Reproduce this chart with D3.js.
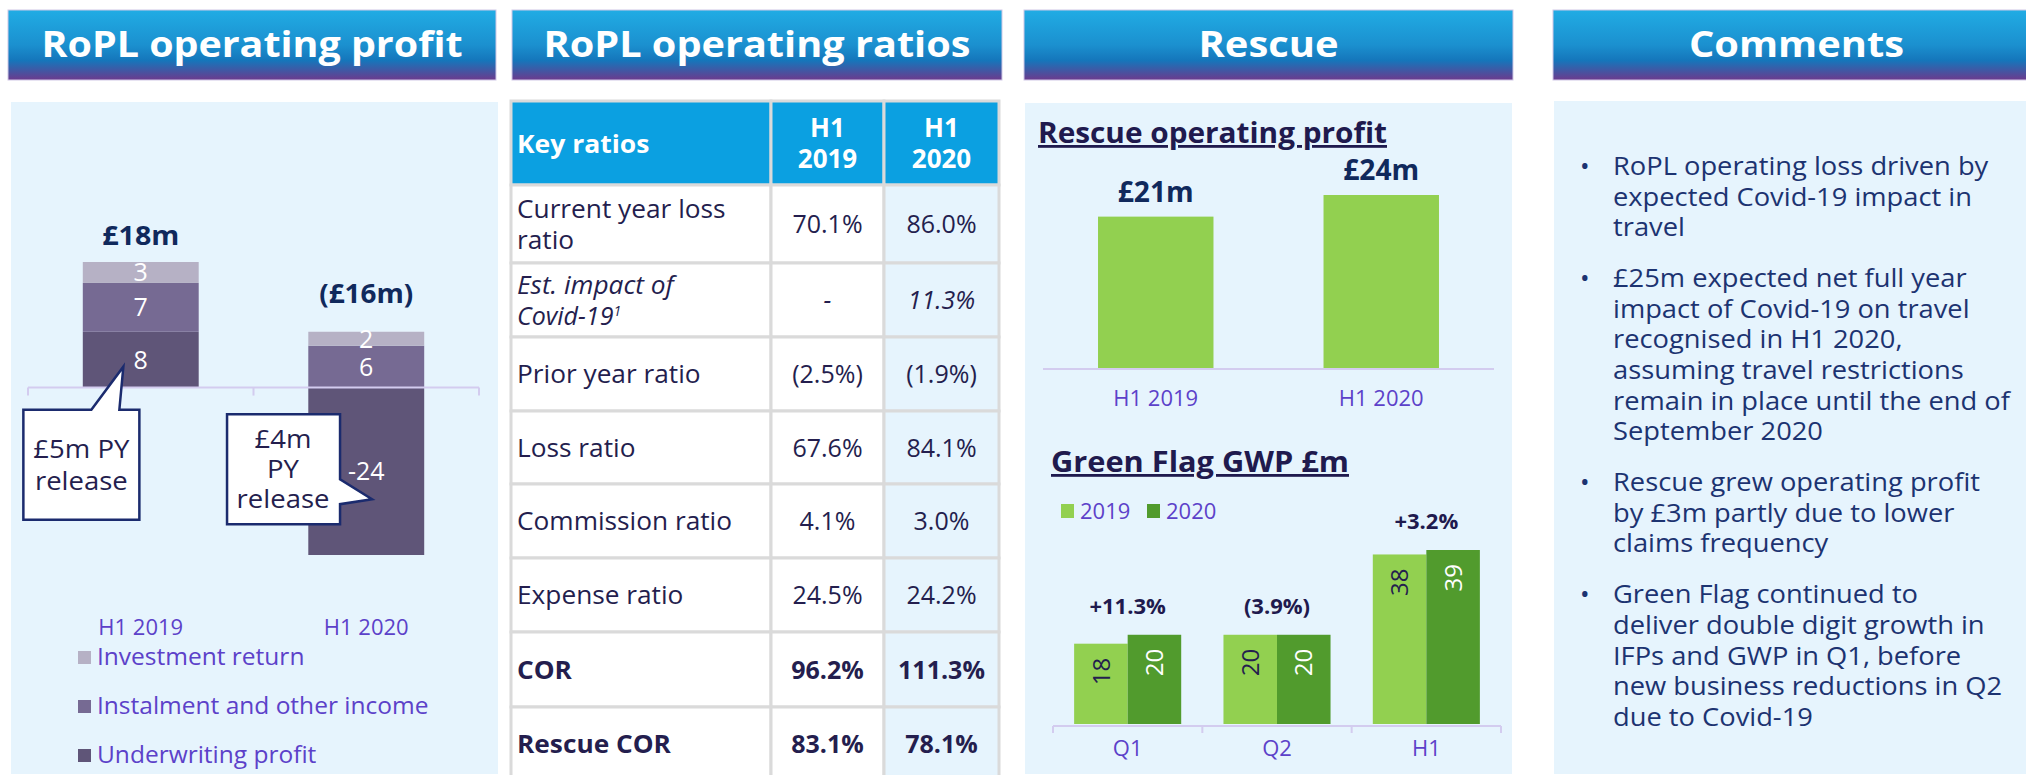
<!DOCTYPE html>
<html>
<head>
<meta charset="utf-8">
<script src="https://cdn.jsdelivr.net/npm/d3@7"></script>
<style>
body { margin: 0; background: #fff; }
svg text { font-family: "Open Sans", "Noto Sans", sans-serif; }
</style>
</head>
<body>
<svg id="chart" width="2026" height="775"></svg>
<script>
// ---- data ----
var roplYears = ["H1 2019", "H1 2020"];
var underwritingProfit = [8, -24];
var instalmentIncome = [7, 6];
var investmentReturn = [3, 2];
var roplTotals = ["£18m", "(£16m)"];
var roplSeriesNames = ["Investment return", "Instalment and other income", "Underwriting profit"];

var ratioLabels = [["Current year loss", "ratio"], ["Est. impact of", "Covid-19"], ["Prior year ratio"], ["Loss ratio"],
	["Commission ratio"], ["Expense ratio"], ["COR"], ["Rescue COR"]];
var ratios2019 = ["70.1%", "-", "(2.5%)", "67.6%", "4.1%", "24.5%", "96.2%", "83.1%"];
var ratios2020 = ["86.0%", "11.3%", "(1.9%)", "84.1%", "3.0%", "24.2%", "111.3%", "78.1%"];
var ratioHeaders = ["Key ratios", "H1 2019", "H1 2020"];

var rescueYears = ["H1 2019", "H1 2020"];
var rescueProfit = [21, 24];
var rescueLabels = ["£21m", "£24m"];

var gwpPeriods = ["Q1", "Q2", "H1"];
var gwp2019 = [18, 20, 38];
var gwp2020 = [20, 20, 39];
var gwpGrowth = ["+11.3%", "(3.9%)", "+3.2%"];

var comments = [
	["RoPL operating loss driven by", "expected Covid-19 impact in", "travel"],
	["£25m expected net full year", "impact of Covid-19 on travel", "recognised in H1 2020,", "assuming travel restrictions", "remain in place until the end of", "September 2020"],
	["Rescue grew operating profit", "by £3m partly due to lower", "claims frequency"],
	["Green Flag continued to", "deliver double digit growth in", "IFPs and GWP in Q1, before", "new business reductions in Q2", "due to Covid-19"]
];

// ---- styles ----
var navy = "#10295c", ink = "#241e4e", purple = "#5c41c9", axisCol = "#d3ccef";
var panelBg = "#e6f4fd";
var segColors = { underwriting: "#5f5578", instalment: "#766a93", investment: "#b6b1c5" };
var lightGreen = "#92d050", darkGreen = "#519b2d";

var svg = d3.select("#chart");

var grad = svg.append("defs").append("linearGradient")
	.attr("id", "hdr").attr("x1", 0).attr("y1", 0).attr("x2", 0).attr("y2", 1);
[[0, "#21ace4"], [0.5, "#1b90cf"], [0.72, "#1576bb"], [1, "#6c3a8d"]].forEach(function(s) {
	grad.append("stop").attr("offset", s[0]).attr("stop-color", s[1]);
});

function stretch(sel, w) {
	sel.attr("textLength", w).attr("lengthAdjust", "spacingAndGlyphs");
}
// widen glyphs a little, the source font is broader than Open Sans
function widen(sel, k) {
	sel.each(function() {
		var len = this.getComputedTextLength();
		d3.select(this).attr("textLength", len * k).attr("lengthAdjust", "spacingAndGlyphs");
	});
}

// ---- headers and panel backgrounds ----
var headers = [
	{ title: "RoPL operating profit", x: 8, w: 488, tw: 421 },
	{ title: "RoPL operating ratios", x: 512, w: 490, tw: 427 },
	{ title: "Rescue", x: 1024, w: 489, tw: 140 },
	{ title: "Comments", x: 1553, w: 487, tw: 215 }
];
headers.forEach(function(h) {
	svg.append("rect").attr("x", h.x).attr("y", 10).attr("width", h.w).attr("height", 70)
		.attr("fill", "url(#hdr)").attr("stroke", "#cfc8e6").attr("stroke-width", 1);
	svg.append("text").attr("x", h.x + h.w / 2).attr("y", 57).attr("text-anchor", "middle")
		.attr("fill", "#fff").attr("font-size", 35).attr("font-weight", 700)
		.text(h.title).call(stretch, h.tw);
});

[{ x: 11, y: 102, w: 487 }, { x: 1025, y: 103, w: 487 }, { x: 1554, y: 101, w: 480 }].forEach(function(p) {
	svg.append("rect").attr("x", p.x).attr("y", p.y).attr("width", p.w).attr("height", 774 - p.y)
		.attr("fill", panelBg);
});

// ---- RoPL operating profit (diverging stack) ----
var roplRows = roplYears.map(function(y, i) {
	return { year: y, underwriting: underwritingProfit[i], instalment: instalmentIncome[i], investment: investmentReturn[i], total: roplTotals[i] };
});
var roplStack = d3.stack().keys(["underwriting", "instalment", "investment"])
	.offset(d3.stackOffsetDiverging)(roplRows);

var x1 = d3.scaleBand().domain(roplYears).range([28, 479]).paddingInner(0.486).paddingOuter(0.243);
var y1 = d3.scaleLinear().domain([-24, 18]).range([555, 262]);
var g1 = svg.append("g");

g1.selectAll("g.series").data(roplStack).enter().append("g")
	.attr("fill", function(s) { return segColors[s.key]; })
	.selectAll("rect").data(function(s) { return s; }).enter().append("rect")
	.attr("x", function(d) { return x1(d.data.year); })
	.attr("width", x1.bandwidth())
	.attr("y", function(d) { return y1(d[1]); })
	.attr("height", function(d) { return y1(d[0]) - y1(d[1]); });

// axis with ticks between categories
var bounds1 = [x1.range()[0]].concat(roplYears.map(function(d) { return x1(d) + x1.bandwidth() + x1.step() * x1.paddingOuter(); }));
g1.append("line").attr("x1", x1.range()[0]).attr("x2", x1.range()[1])
	.attr("y1", y1(0)).attr("y2", y1(0)).attr("stroke", axisCol).attr("stroke-width", 2);
g1.selectAll("line.tick").data(bounds1).enter().append("line")
	.attr("x1", function(d) { return d; }).attr("x2", function(d) { return d; })
	.attr("y1", y1(0)).attr("y2", y1(0) + 8).attr("stroke", axisCol).attr("stroke-width", 2);

// segment labels
roplStack.forEach(function(s) {
	g1.selectAll(null).data(s).enter().append("text")
		.attr("x", function(d) { return x1(d.data.year) + x1.bandwidth() / 2; })
		.attr("y", function(d) { return y1((d[0] + d[1]) / 2) + 9; })
		.attr("text-anchor", "middle").attr("fill", "#fff").attr("font-size", 25)
		.text(function(d) { return d.data[s.key]; });
});

// totals above positive stack (loss total sits a little higher)
var topStack = roplStack[roplStack.length - 1];
g1.selectAll(null).data(topStack).enter().append("text")
	.attr("x", function(d) { return x1(d.data.year) + x1.bandwidth() / 2; })
	.attr("y", function(d) { return y1(d[1]) - (d.data.total.charAt(0) === "(" ? 29 : 17); })
	.attr("text-anchor", "middle").attr("fill", navy).attr("font-size", 26).attr("font-weight", 700)
	.text(function(d) { return d.data.total; })
	.each(function(d) { d3.select(this).call(stretch, d.data.total.length > 4 ? 94 : 77); });

g1.selectAll(null).data(roplYears).enter().append("text")
	.attr("x", function(d) { return x1(d) + x1.bandwidth() / 2; }).attr("y", 635)
	.attr("text-anchor", "middle").attr("fill", purple).attr("font-size", 22)
	.text(function(d) { return d; });

// callouts
function callout(tip, pathFn, lines, cx, y0, dy) {
	g1.append("path").attr("d", pathFn(tip[0], tip[1]))
		.attr("fill", "#fff").attr("stroke", "#1b2b6e").attr("stroke-width", 2.5);
	lines.forEach(function(l, i) {
		g1.append("text").attr("x", cx(tip[0])).attr("y", y0(tip[1]) + i * dy)
			.attr("text-anchor", "middle").attr("fill", ink).attr("font-size", 25).text(l)
			.call(widen, 1.1);
	});
}
var tipA = [x1("H1 2019") + x1.bandwidth() * 0.35, y1(3)];
callout(tipA, function(tx, ty) {
	return "M" + (tx - 100) + "," + (ty + 43) + "H" + (tx - 32) + "L" + tx + "," + ty + "L" + (tx - 4) + "," + (ty + 43) +
		"H" + (tx + 16) + "V" + (ty + 153) + "H" + (tx - 100) + "Z";
}, ["£5m PY", "release"], function(tx) { return tx - 42; }, function(ty) { return ty + 91; }, 32);

var tipB = [x1("H1 2020") + x1.bandwidth() * 0.55, y1(-16)];
callout(tipB, function(tx, ty) {
	return "M" + (tx - 145) + "," + (ty - 85) + "H" + (tx - 32) + "V" + (ty - 20) + "L" + tx + "," + ty + "L" + (tx - 32) + "," + (ty + 5) +
		"V" + (ty + 25) + "H" + (tx - 145) + "Z";
}, ["£4m", "PY", "release"], function(tx) { return tx - 89; }, function(ty) { return ty - 51; }, 30);

// legend
var legKeys = ["investment", "instalment", "underwriting"];
roplSeriesNames.forEach(function(name, i) {
	g1.append("rect").attr("x", 78).attr("y", 651 + i * 49).attr("width", 13).attr("height", 13)
		.attr("fill", segColors[legKeys[i]]);
	g1.append("text").attr("x", 97).attr("y", 665 + i * 49).attr("fill", purple).attr("font-size", 24.5).text(name);
});

// ---- RoPL operating ratios table ----
var colX = [511, 771, 884, 999];
var rowH = [84, 78, 74, 74, 73, 74, 74, 75, 74];
var rowY = [101];
rowH.forEach(function(h, i) { rowY.push(rowY[i] + h); });
var gt = svg.append("g");

var cells = [];
for (var r = 0; r < rowH.length; r++) {
	for (var c = 0; c < 3; c++) {
		cells.push({ r: r, c: c });
	}
}
gt.selectAll("rect").data(cells).enter().append("rect")
	.attr("x", function(d) { return colX[d.c]; })
	.attr("y", function(d) { return rowY[d.r]; })
	.attr("width", function(d) { return colX[d.c + 1] - colX[d.c]; })
	.attr("height", function(d) { return rowH[d.r]; })
	.attr("fill", function(d) { return d.r === 0 ? "#0ba0e1" : (d.c === 2 ? panelBg : "#fff"); })
	.attr("stroke", "#dadada").attr("stroke-width", 3);

var colCenter = function(c) { return (colX[c] + colX[c + 1]) / 2; };
gt.append("text").attr("x", 517).attr("y", 153).attr("fill", "#fff").attr("font-size", 25)
	.attr("font-weight", 700).text(ratioHeaders[0]).call(widen, 1.06);
[1, 2].forEach(function(c) {
	ratioHeaders[c].split(" ").forEach(function(w, i) {
		gt.append("text").attr("x", colCenter(c)).attr("y", 137 + i * 31).attr("text-anchor", "middle")
			.attr("fill", "#fff").attr("font-size", 26).attr("font-weight", 700).text(w);
	});
});

var italicRow = 1, boldRows = [6, 7];
ratioLabels.forEach(function(lines, i) {
	var mid = (rowY[i + 1] + rowY[i + 2]) / 2;
	var weight = boldRows.indexOf(i) >= 0 ? 700 : 400;
	var style = i === italicRow ? "italic" : "normal";
	lines.forEach(function(l, j) {
		var t = gt.append("text").attr("x", 517).attr("y", mid + 9 + (j - (lines.length - 1) / 2) * 31)
			.attr("fill", ink).attr("font-size", 25).attr("font-weight", weight).attr("font-style", style).text(l);
		if (i === italicRow && j === lines.length - 1) {
			t.append("tspan").attr("font-size", 14).attr("baseline-shift", "super").text("1");
		} else {
			t.call(widen, 1.05);
		}
	});
	[ratios2019[i], ratios2020[i]].forEach(function(v, k) {
		gt.append("text").attr("x", colCenter(k + 1)).attr("y", mid + 9).attr("text-anchor", "middle")
			.attr("fill", ink).attr("font-size", 25).attr("font-weight", weight).attr("font-style", style).text(v);
	});
});

// ---- Rescue operating profit ----
var g3 = svg.append("g");
g3.append("text").attr("x", 1038).attr("y", 143).attr("fill", "#1f1a4e").attr("font-size", 28)
	.attr("font-weight", 700).attr("text-decoration", "underline").text("Rescue operating profit").call(stretch, 349);

var x3 = d3.scaleBand().domain(rescueYears).range([1043, 1494]).paddingInner(0.488).paddingOuter(0.244);
var y3 = d3.scaleLinear().domain([0, 24]).range([368, 195]);
var rescueRows = rescueYears.map(function(y, i) { return { year: y, value: rescueProfit[i], label: rescueLabels[i] }; });

g3.selectAll("rect").data(rescueRows).enter().append("rect")
	.attr("x", function(d) { return x3(d.year); }).attr("width", x3.bandwidth())
	.attr("y", function(d) { return y3(d.value); }).attr("height", function(d) { return y3(0) - y3(d.value); })
	.attr("fill", lightGreen);
g3.append("line").attr("x1", 1043).attr("x2", 1494).attr("y1", y3(0) + 1).attr("y2", y3(0) + 1)
	.attr("stroke", axisCol).attr("stroke-width", 2);
g3.selectAll("text.val").data(rescueRows).enter().append("text")
	.attr("x", function(d) { return x3(d.year) + x3.bandwidth() / 2; })
	.attr("y", function(d) { return y3(d.value) - 15; })
	.attr("text-anchor", "middle").attr("fill", navy).attr("font-size", 28).attr("font-weight", 700)
	.text(function(d) { return d.label; }).call(stretch, 76);
g3.selectAll("text.cat").data(rescueYears).enter().append("text")
	.attr("x", function(d) { return x3(d) + x3.bandwidth() / 2; }).attr("y", 406)
	.attr("text-anchor", "middle").attr("fill", purple).attr("font-size", 22).text(function(d) { return d; });

// ---- Green Flag GWP ----
var g4 = svg.append("g");
g4.append("text").attr("x", 1051).attr("y", 472).attr("fill", "#1f1a4e").attr("font-size", 28)
	.attr("font-weight", 700).attr("text-decoration", "underline").text("Green Flag GWP £m").call(stretch, 298);

var gwpKeys = ["2019", "2020"];
var gwpColors = { "2019": lightGreen, "2020": darkGreen };
gwpKeys.forEach(function(k, i) {
	g4.append("rect").attr("x", 1061 + i * 86).attr("y", 504).attr("width", 13).attr("height", 14).attr("fill", gwpColors[k]);
	g4.append("text").attr("x", 1080 + i * 86).attr("y", 519).attr("fill", purple).attr("font-size", 22).text(k);
});

var x4 = d3.scaleBand().domain(gwpPeriods).range([1053, 1501]).paddingInner(0.283).paddingOuter(0.1415);
var x4i = d3.scaleBand().domain(gwpKeys).range([0, x4.bandwidth()]);
var y4 = d3.scaleLinear().domain([0, 39]).range([724, 550]);
var gwpRows = gwpPeriods.map(function(p, i) {
	return { period: p, growth: gwpGrowth[i], bars: [{ key: "2019", value: gwp2019[i] }, { key: "2020", value: gwp2020[i] }] };
});

var groups = g4.selectAll("g.grp").data(gwpRows).enter().append("g")
	.attr("transform", function(d) { return "translate(" + x4(d.period) + ",0)"; });
groups.selectAll("rect").data(function(d) { return d.bars; }).enter().append("rect")
	.attr("x", function(d) { return x4i(d.key); }).attr("width", x4i.bandwidth())
	.attr("y", function(d) { return y4(d.value); }).attr("height", function(d) { return y4(0) - y4(d.value); })
	.attr("fill", function(d) { return gwpColors[d.key]; });
groups.selectAll("text.v").data(function(d) { return d.bars; }).enter().append("text")
	.attr("transform", function(d) {
		return "translate(" + (x4i(d.key) + x4i.bandwidth() / 2) + "," + (y4(d.value) + 14) + ") rotate(-90)";
	})
	.attr("text-anchor", "end").attr("dy", "0.36em").attr("font-size", 24)
	.attr("fill", function(d) { return d.key === "2019" ? ink : "#fff"; })
	.text(function(d) { return d.value; });
groups.append("text")
	.attr("x", x4.bandwidth() / 2)
	.attr("y", function(d) { return y4(d3.max(d.bars, function(b) { return b.value; })) - 21; })
	.attr("text-anchor", "middle").attr("fill", "#1f1a4e").attr("font-size", 22).attr("font-weight", 700)
	.text(function(d) { return d.growth; });

var bounds4 = [1053].concat(gwpPeriods.map(function(p) { return x4(p) + x4.bandwidth() + x4.step() * x4.paddingOuter(); }));
g4.append("line").attr("x1", 1053).attr("x2", 1501).attr("y1", y4(0) + 2).attr("y2", y4(0) + 2)
	.attr("stroke", axisCol).attr("stroke-width", 2);
g4.selectAll("line.tick").data(bounds4).enter().append("line")
	.attr("x1", function(d) { return d; }).attr("x2", function(d) { return d; })
	.attr("y1", y4(0) + 2).attr("y2", y4(0) + 9).attr("stroke", axisCol).attr("stroke-width", 2);
g4.selectAll("text.cat").data(gwpPeriods).enter().append("text")
	.attr("x", function(d) { return x4(d) + x4.bandwidth() / 2; }).attr("y", 756)
	.attr("text-anchor", "middle").attr("fill", purple).attr("font-size", 22).text(function(d) { return d; });

// ---- Comments ----
var g5 = svg.append("g").attr("fill", "#1c3371").attr("font-size", 25.5);
var yy = 175;
comments.forEach(function(lines) {
	g5.append("text").attr("x", 1580).attr("y", yy).text("•");
	lines.forEach(function(l, j) {
		g5.append("text").attr("x", 1613).attr("y", yy + j * 30.6).text(l).call(widen, 1.07);
	});
	yy += (lines.length - 1) * 30.6 + 51;
});
</script>
</body>
</html>
